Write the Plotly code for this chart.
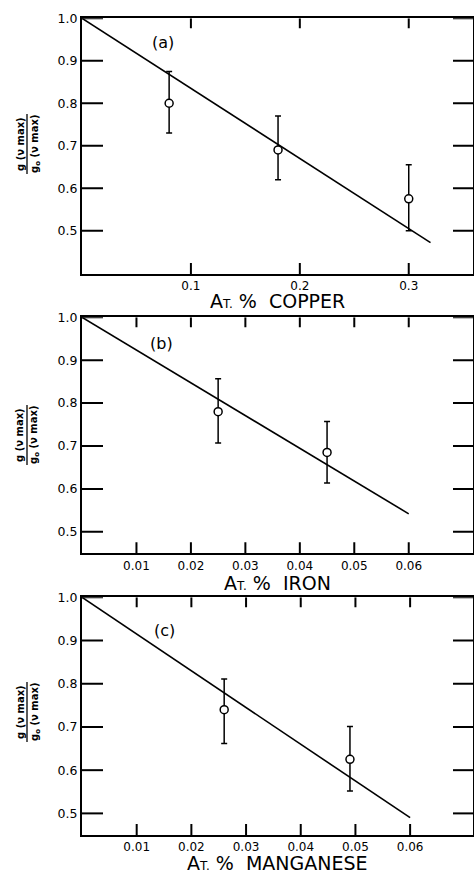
import plotly.graph_objects as go

W, H = 474, 875
FONT = "DejaVu Sans"

# ---------------- data ----------------
# (a) copper
cu_x = [0.08, 0.18, 0.30]
cu_y = [0.80, 0.69, 0.575]
cu_hi = [0.875, 0.77, 0.655]
cu_lo = [0.73, 0.62, 0.50]
cu_fit_x = [0.0, 0.32]
cu_fit_y = [1.0, 0.472]

# (b) iron
fe_x = [0.025, 0.045]
fe_y = [0.78, 0.685]
fe_hi = [0.857, 0.757]
fe_lo = [0.707, 0.614]
fe_fit_x = [0.0, 0.06]
fe_fit_y = [1.0, 0.542]

# (c) manganese
mn_x = [0.026, 0.049]
mn_y = [0.74, 0.625]
mn_hi = [0.811, 0.701]
mn_lo = [0.662, 0.552]
mn_fit_x = [0.0, 0.06]
mn_fit_y = [1.0, 0.49]

y_ticks = [0.5, 0.6, 0.7, 0.8, 0.9, 1.0]
y_ticklabels = ["0.5", "0.6", "0.7", "0.8", "0.9", "1.0"]
cu_ticks = [0.1, 0.2, 0.3]
cu_ticklabels = ["0.1", "0.2", "0.3"]
small_ticks = [0.01, 0.02, 0.03, 0.04, 0.05, 0.06]
small_ticklabels = ["0.01", "0.02", "0.03", "0.04", "0.05", "0.06"]

panel_labels = ["(a)", "(b)", "(c)"]
x_titles = ["COPPER", "IRON", "MANGANESE"]

# ---------------- layout geometry (pixels) ----------------
LEFT, RIGHT = 82, 473
YTICK_LEN, XTICK_LEN = 21, 11
panels = [
    dict(top=18.3, bot=274, xr=[0.0, 0.359], yr=[0.398, 1.0], lab=(0.074, 0.942), ty=300.5, yc=144),
    dict(top=317.3, bot=553.3, xr=[0.0, 0.0718], yr=[0.45, 1.0], lab=(0.0146, 0.938), ty=583, yc=435),
    dict(top=597.3, bot=835, xr=[0.0, 0.0715], yr=[0.45, 1.0], lab=(0.015, 0.923), ty=863, yc=712),
]

def px(x):
    return x / W

def py(y):
    return 1 - y / H

fig = go.Figure()

datasets = [
    (cu_x, cu_y, cu_hi, cu_lo, cu_fit_x, cu_fit_y, cu_ticks, cu_ticklabels),
    (fe_x, fe_y, fe_hi, fe_lo, fe_fit_x, fe_fit_y, small_ticks, small_ticklabels),
    (mn_x, mn_y, mn_hi, mn_lo, mn_fit_x, mn_fit_y, small_ticks, small_ticklabels),
]

annotations = []
shapes = []
axes = {}
for i, (p, d) in enumerate(zip(panels, datasets)):
    xs, ys, hi, lo, fx, fy, xt, xtl = d
    sfx = "" if i == 0 else str(i + 1)
    xa, ya = "x" + sfx, "y" + sfx
    x0, x1 = p["xr"]
    y0, y1 = p["yr"]
    plot_w = RIGHT - LEFT
    plot_h = p["bot"] - p["top"]
    # inward tick marks on all four sides (lengths converted from px to axis units)
    dx_l = YTICK_LEN / plot_w * (x1 - x0)
    dx_r = (YTICK_LEN - 1) / plot_w * (x1 - x0)
    dy_b = XTICK_LEN / plot_h * (y1 - y0)
    dy_t = (XTICK_LEN - 1) / plot_h * (y1 - y0)
    tx, ty = [], []
    for v in y_ticks:
        tx += [x0, x0 + dx_l, None, x1 - dx_r, x1, None]
        ty += [v, v, None, v, v, None]
    for v in xt:
        tx += [v, v, None, v, v, None]
        ty += [y0, y0 + dy_b, None, y1 - dy_t, y1, None]
    fig.add_trace(go.Scatter(x=tx, y=ty, mode="lines", xaxis=xa, yaxis=ya,
                             line=dict(color="black", width=2), showlegend=False,
                             hoverinfo="skip", cliponaxis=False))
    fig.add_trace(go.Scatter(x=fx, y=fy, mode="lines", xaxis=xa, yaxis=ya,
                             line=dict(color="black", width=1.6), showlegend=False,
                             hoverinfo="skip"))
    fig.add_trace(go.Scatter(
        x=xs, y=ys, mode="markers", xaxis=xa, yaxis=ya, showlegend=False,
        marker=dict(symbol="circle", size=8, color="white", line=dict(color="black", width=1.5)),
        error_y=dict(type="data", symmetric=False,
                     array=[h - v for h, v in zip(hi, ys)],
                     arrayminus=[v - l for v, l in zip(ys, lo)],
                     color="black", thickness=1.5, width=3)))
    axes["xaxis" + sfx] = dict(
        domain=[px(LEFT), px(RIGHT)], range=p["xr"], anchor=ya,
        tickvals=xt, ticktext=xtl,
        tickfont=dict(family=FONT, size=12, color="black"))
    axes["yaxis" + sfx] = dict(
        domain=[py(p["bot"]), py(p["top"])], range=p["yr"], anchor=xa,
        tickvals=y_ticks, ticktext=y_ticklabels,
        tickfont=dict(family=FONT, size=12.5, color="black"))

    # panel label
    annotations.append(dict(x=p["lab"][0], y=p["lab"][1], xref=xa, yref=ya,
                            text=panel_labels[i], showarrow=False,
                            font=dict(family=FONT, size=16, color="black")))
    # x title
    annotations.append(dict(
        x=px(277), y=py(p["ty"]), xref="paper", yref="paper", showarrow=False,
        text="A<span style='font-size:12px'>T.</span> %  " + x_titles[i],
        font=dict(family=FONT, size=19, color="black"), xanchor="center", yanchor="middle"))
    # y label as fraction
    annotations.append(dict(
        x=px(20), y=py(p["yc"]), xref="paper", yref="paper", showarrow=False,
        text="<b>g (ν max)</b>", textangle=-90,
        font=dict(family=FONT, size=10, color="black"), xanchor="center", yanchor="middle"))
    annotations.append(dict(
        x=px(35), y=py(p["yc"]), xref="paper", yref="paper", showarrow=False,
        text="<b>g<sub>o</sub> (ν max)</b>", textangle=-90,
        font=dict(family=FONT, size=10, color="black"), xanchor="center", yanchor="middle"))
    shapes.append(dict(type="line", xref="paper", yref="paper",
                       x0=px(27), x1=px(27), y0=py(p["yc"] - 30), y1=py(p["yc"] + 30),
                       line=dict(color="black", width=1.3)))

fig.update_layout(
    template="none",
    width=W, height=H, margin=dict(l=0, r=0, t=0, b=0),
    paper_bgcolor="white", plot_bgcolor="white",
    annotations=annotations, shapes=shapes,
    font=dict(family=FONT, color="black"),
    **axes,
)
style = dict(showline=True, linecolor="black", linewidth=2, mirror=True,
             ticks="", showgrid=False, zeroline=False, automargin=False)
fig.update_xaxes(**style)
fig.update_yaxes(**style)

fig.write_html(
    "out.html",
    config={"displayModeBar": False},
    post_script="document.body.style.margin='0';document.body.style.overflow='hidden';",
)
